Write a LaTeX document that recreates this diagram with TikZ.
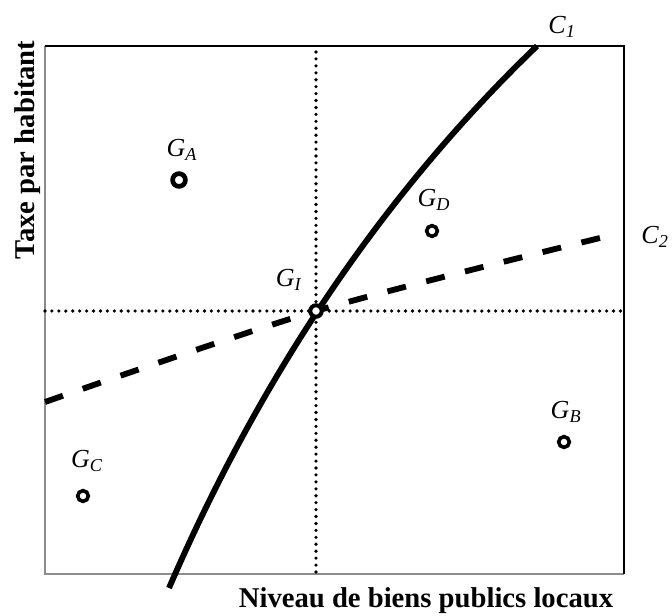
\documentclass[tikz,border=0pt]{standalone}
\usepackage{fontspec}
\setmainfont{Liberation Serif}
\usepackage{tikz}
\definecolor{edgegray}{HTML}{8C8C8C}
\newcommand{\gsub}[2]{\textit{#1}\textsubscript{\textit{#2}}}

\begin{document}
\begin{tikzpicture}[x=0.75pt, y=-0.75pt,
  frame/.style={line width=1.5pt},
  grid line/.style={line width=2.7pt, line cap=round, dash pattern=on 0pt off 5.2pt},
  curve/.style={line width=4.4pt},
  town/.style={circle, draw, fill=white, inner sep=0pt, line width=2.7pt, minimum size=8pt},
  lbl/.style={font=\fontsize{19.5}{22}\selectfont, inner sep=0pt},
  axis/.style={font=\fontsize{21.5}{24}\selectfont\bfseries, inner sep=0pt}]
\useasboundingbox (0,0) rectangle (672,615);
% frame
\coordinate (sw) at (45,574);
\coordinate (ne) at (624,46);
\draw[frame, edgegray] (sw |- ne) -- (sw) -- (sw -| ne);
\draw[frame] (sw |- ne) -- (ne) -- (sw -| ne);
% dotted cross through G_I
\coordinate (gi) at (316,311);
\draw[grid line] (316,52) -- (gi |- sw);
\draw[grid line] (gi -| sw) -- (gi -| ne);
% C1 and C2
\draw[curve] (169,588) .. controls (262,373) and (385,192) .. (537,46);
\draw[curve, dash pattern=on 14.3pt off 15.7pt] plot[smooth] coordinates {(45,402) (316,311) (604,237)};
% towns
\node[town, line width=3.5pt, minimum size=9.6pt] (GA) at (179,180) {};
\node[town] (GB) at (564,442) {};
\node[town] (GC) at (83,496) {};
\node[town] (GD) at (432,231) {};
\node[town, line width=3pt, minimum size=8.6pt] (GI) at (gi) {};
\node[lbl] (lA) at (182,150) {\gsub{G}{A}};
\node[lbl] (lB) at (566,412) {\gsub{G}{B}};
\node[lbl] (lC) at (87,461) {\gsub{G}{C}};
\node[lbl] (lD) at (434,200) {\gsub{G}{D}};
\node[lbl] (lI) at (289,280) {\gsub{G}{I}};
\node[lbl] (lC1) at (562,27) {\gsub{C}{1}};
\node[lbl] (lC2) at (655,237) {\gsub{C}{2}};
% axes
\node[axis, anchor=base] (xlab) at (426,607) {Niveau de biens publics locaux};
\node[axis, rotate=90, anchor=base] (ylab) at (35,150) {Taxe par habitant};
\end{tikzpicture}
\end{document}
